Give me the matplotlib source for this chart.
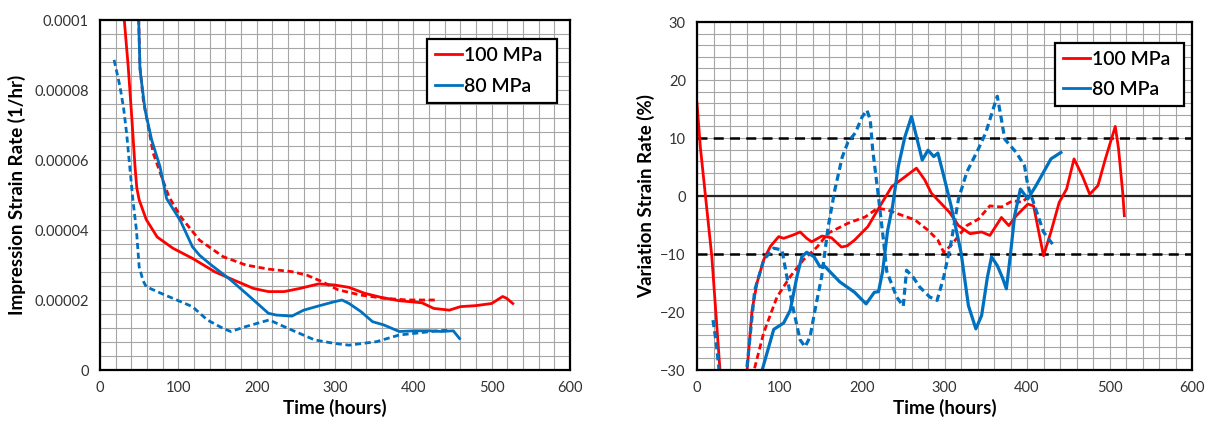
import numpy as np
import matplotlib
matplotlib.use('Agg')
import matplotlib.pyplot as plt
from matplotlib.ticker import MultipleLocator

plt.rcParams['font.family'] = ['Lato', 'DejaVu Sans']

RED = '#ff0000'
BLUE = '#0070c0'

# ---- left panel: impression strain rate (values in 1e-5 1/hr) ----
red_solid_t = [29, 31, 36, 40.5, 44.7, 47, 50, 59, 73, 93, 118, 147, 176, 196, 215, 235, 255,
               279, 299, 318, 338, 358, 382, 411, 426, 446, 460, 480, 500, 514, 519, 527]
red_solid_v = [10.6, 10.0, 8.67, 7.24, 5.81, 5.2, 4.86, 4.3, 3.8, 3.48, 3.19, 2.80, 2.52, 2.33, 2.24, 2.24, 2.33,
               2.46, 2.43, 2.36, 2.19, 2.08, 1.98, 1.92, 1.76, 1.71, 1.81, 1.84, 1.90, 2.10, 2.05, 1.90]

red_dash_t = [47, 49.4, 51, 55.3, 61.7, 68, 78.7, 88, 103, 127, 157, 186, 216, 245, 264, 284,
              304, 333, 362, 392, 411, 431]
red_dash_v = [11, 10, 8.67, 7.71, 6.95, 6.19, 5.52, 4.95, 4.38, 3.71, 3.24, 3.0, 2.88, 2.81, 2.71, 2.52,
              2.29, 2.14, 2.05, 2.0, 2.0, 2.0]

blue_solid_t = [48.5, 49.4, 51, 57.5, 66, 76.6, 85, 103, 118, 127, 142, 167, 191, 215, 225, 245, 260,
                279, 299, 309, 318, 333, 348, 362, 382, 402, 421, 436, 451, 459]
blue_solid_v = [11, 10, 8.6, 7.43, 6.57, 5.81, 4.9, 4.25, 3.52, 3.28, 3.0, 2.57, 2.1, 1.62, 1.57, 1.54, 1.71,
                1.83, 1.95, 2.0, 1.90, 1.67, 1.38, 1.29, 1.10, 1.12, 1.12, 1.10, 1.12, 0.90]

blue_dash_t = [18, 25.5, 30, 34, 38, 42, 46.5, 50, 55, 59, 78, 98, 118, 137, 157, 167, 186, 216,
               245, 274, 299, 318, 353, 382, 411, 431, 446]
blue_dash_v = [8.86, 8.1, 7.5, 6.76, 5.8, 4.86, 4.0, 2.95, 2.55, 2.38, 2.19, 2.0, 1.81, 1.43, 1.19, 1.10, 1.24, 1.43,
               1.14, 0.86, 0.76, 0.71, 0.81, 1.0, 1.07, 1.12, 1.14]

left_yticks = [0, 0.00002, 0.00004, 0.00006, 0.00008, 0.0001]
left_yticklabels = ['0', '0.00002', '0.00004', '0.00006', '0.00008', '0.0001']

# ---- right panel: variation strain rate (%) ----
var_red_solid_t = [0, 4, 18, 28, 34, 56, 60.6, 66.7, 72.7, 80.8, 88.9, 99, 105, 117, 125, 133, 139,
                   151.5, 163, 175, 182, 191, 207, 219, 236, 252, 266, 276, 284, 292, 306, 317, 331,
                   345, 355, 369, 378, 387, 401, 408, 420, 429, 439, 448, 457, 467, 476, 486, 495,
                   507, 511, 516, 518]
var_red_solid_v = [16, 8.5, -10.5, -30.3, -45, -45, -30.3, -19.7, -15, -11, -8.7, -7, -7.3, -6.7, -6.2, -7.3, -7.9,
                   -6.9, -7.2, -8.8, -8.6, -7.6, -5.3, -2.4, 1.6, 3.3, 4.8, 2.8, 0.5, -0.7, -2.8, -5.1, -6.5,
                   -6.2, -6.8, -3.7, -5.1, -3.4, -1.4, -1.7, -10.3, -6.2, -1.1, 1.2, 6.4, 3.5, 0.3, 1.8, 6.4,
                   12, 8.1, 0.6, -3.4]

var_red_dash_t = [66, 68.7, 80.8, 97, 113, 129, 145.5, 159, 183, 204, 219, 231, 248, 264, 280, 292,
                  299, 308, 327, 341, 355, 369, 383, 394, 401]
var_red_dash_v = [-33, -30.3, -23.6, -17.4, -13.9, -11, -8.8, -6.4, -4.7, -3.6, -2.1, -2.4, -3.3, -4.1, -5.9, -7.6,
                  -9.7, -8.5, -5.1, -4, -1.7, -1.9, -0.8, -1.1, -0.2]

var_blue_solid_t = [77, 79, 93, 105, 113, 121, 127, 133, 142, 149, 154, 173, 191, 205, 215, 220, 225,
                    231, 237, 244, 252, 260, 264, 273, 280, 287, 292, 299, 308, 320, 329, 338, 345,
                    352, 357, 364, 370, 375, 380, 385, 392, 401, 411, 420, 429, 441]
var_blue_solid_v = [-33, -30, -23, -21.9, -19.7, -14, -10.5, -9.7, -10.5, -12.2, -12, -14.8, -16.6, -18.6, -16.6, -16.5, -13,
                    -6, -1.8, 5.1, 10.2, 13.7, 11.4, 6.2, 7.9, 6.8, 7.4, 3.5, -1.7, -9.7, -18.9, -22.9, -20.6,
                    -14, -10.5, -12, -14, -16, -10, -3.4, 1.2, -0.5, 1.8, 4.1, 6.4, 7.5]

var_blue_dash_t = [19.4, 23, 27, 30, 57, 60, 70, 81, 93, 103, 109, 117, 125, 131, 137, 143, 151, 159,
                   167, 176, 183, 192, 200, 206, 210, 213, 219, 226, 230, 242, 250, 254, 262, 270, 282,
                   291, 299, 308, 317, 327, 341, 350, 359, 364, 369, 373, 387, 397, 401, 410, 420, 432]
var_blue_dash_v = [-21.4, -25, -30.3, -36, -36, -30.3, -16.2, -11, -9, -9.3, -14, -19.7, -24.8, -26, -24.3, -19.7, -14, -5.3,
                   1, 6.7, 9.3, 10.9, 13.6, 14.8, 13.1, 7.9, 1, -7.6, -13, -17.4, -19, -12.8, -14, -15.7, -17.4,
                   -18, -14, -8, -0.5, 4.1, 8.1, 10.9, 15, 17.2, 13.2, 9.8, 7.5, 5.2, 1.8, -2, -6.2, -8.5]

DASH = (0, (2.2, 1.3))

fig = plt.figure(figsize=(12.08, 4.25), dpi=100)
ax1 = fig.add_axes([100 / 1208, 55 / 425, 470 / 1208, 350 / 425])
ax2 = fig.add_axes([697 / 1208, 55 / 425, 495 / 1208, 348 / 425])


def style_axes(ax):
    ax.xaxis.set_major_locator(MultipleLocator(100))
    ax.xaxis.set_minor_locator(MultipleLocator(20))
    ax.grid(which='both', color='#a6a6a6', linewidth=0.8)
    ax.set_axisbelow(True)
    ax.tick_params(which='both', length=0, labelsize=10.5, labelcolor='#333333', pad=8)
    for s in ax.spines.values():
        s.set_linewidth(1.6)
        s.set_color('black')
    ax.set_xlabel('Time (hours)', fontsize=13.5, fontweight='bold', labelpad=3)


# left panel
s = 1e-5
ax1.plot(red_solid_t, np.array(red_solid_v) * s, color=RED, lw=2.0, label='100 MPa')
ax1.plot(red_dash_t, np.array(red_dash_v) * s, color=RED, lw=2.0, ls=DASH)
ax1.plot(blue_solid_t, np.array(blue_solid_v) * s, color=BLUE, lw=2.0, label='80 MPa')
ax1.plot(blue_dash_t, np.array(blue_dash_v) * s, color=BLUE, lw=2.0, ls=DASH)
ax1.set_xlim(0, 600)
ax1.set_ylim(0, 0.0001)
ax1.set_yticks(left_yticks)
ax1.set_yticklabels(left_yticklabels)
ax1.yaxis.set_minor_locator(MultipleLocator(0.000004))
style_axes(ax1)
ax1.set_ylabel('Impression Strain Rate (1/hr)', fontsize=13.5, fontweight='bold', labelpad=6)

# right panel
ax2.axhline(0, color='#262626', lw=1.6, zorder=1.5)
ax2.axhline(10, color='black', lw=1.8, ls=(0, (4, 2.5)), zorder=1.5)
ax2.axhline(-10, color='black', lw=1.8, ls=(0, (4, 2.5)), zorder=1.5)
ax2.plot(var_red_solid_t, var_red_solid_v, color=RED, lw=2.0, label='100 MPa')
ax2.plot(var_red_dash_t, var_red_dash_v, color=RED, lw=2.0, ls=DASH)
ax2.plot(var_blue_solid_t, var_blue_solid_v, color=BLUE, lw=2.3, label='80 MPa')
ax2.plot(var_blue_dash_t, var_blue_dash_v, color=BLUE, lw=2.3, ls=DASH)
ax2.set_xlim(0, 600)
ax2.set_ylim(-30, 30)
ax2.yaxis.set_major_locator(MultipleLocator(10))
ax2.yaxis.set_minor_locator(MultipleLocator(2))
style_axes(ax2)
ax2.set_ylabel('Variation Strain Rate (%)', fontsize=13.5, fontweight='bold', labelpad=4)

for ax, box in ((ax1, (0.696, 0.763, 0.276, 0.183)), (ax2, (0.723, 0.756, 0.261, 0.187))):
    leg = ax.legend(loc='center', bbox_to_anchor=box, mode='expand',
                    frameon=True, fancybox=False, framealpha=1, edgecolor='black',
                    handlelength=1.4, handletextpad=0.1, borderaxespad=0, labelspacing=0.7,
                    prop={'size': 14, 'weight': 'semibold'})
    leg.get_frame().set_linewidth(1.6)
    for line in leg.get_lines():
        line.set_linewidth(2.0)

fig.savefig('out.png', dpi=100)
